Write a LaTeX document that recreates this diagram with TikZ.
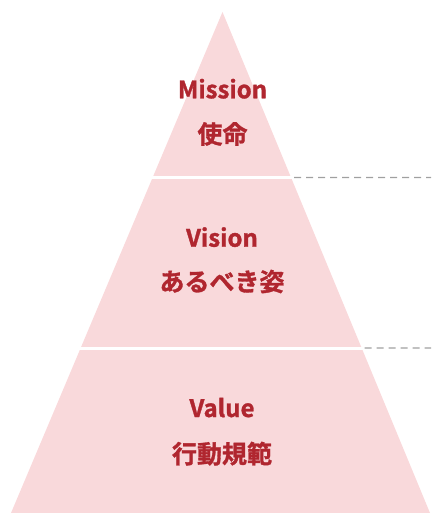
\documentclass[tikz,border=0pt]{standalone}
\usepackage{fontspec}
\setmainfont{Noto Sans CJK JP Bold}[FakeBold=1.2]
\usetikzlibrary{calc}
\definecolor{pk}{HTML}{F9D9DB}
\definecolor{rd}{HTML}{B0262F}
\definecolor{gy}{HTML}{A0A0A0}
\begin{document}
\begin{tikzpicture}[x=1pt,y=-1pt,
    lbl/.style={text=rd,font=\fontsize{24}{28}\selectfont,inner sep=0pt},
    jlbl/.style={lbl,font=\fontsize{25}{30}\selectfont},
    cut/.style={white,line width=3pt},
    guide/.style={gy,line width=1.2pt,dash pattern=on 7pt off 5pt}]
    \useasboundingbox (0,0) rectangle (431,513);
    \coordinate (top) at (222.5,12);
    \coordinate (bl) at (11,513);
    \coordinate (br) at (430,513);
    \fill[pk] (top) -- (br) -- (bl) -- cycle;
    % cuts between the levels
    \coordinate (c1l) at ($(top)!165.5/501!(bl)+(-3,0)$);
    \coordinate (c1r) at ($(top)!165.5/501!(br)+(3,0)$);
    \coordinate (c2l) at ($(top)!336/501!(bl)+(-3,0)$);
    \coordinate (c2r) at ($(top)!336/501!(br)+(3,0)$);
    \draw[cut] (c1l) -- (c1r);
    \draw[cut] (c2l) -- (c2r);
    \coordinate (e1) at (431,177.5);
    \coordinate (e2) at (431,348);
    \draw[guide] (c1r) -- (e1);
    \draw[guide] (c2r) -- (e2);
    % labels
    \node[lbl,anchor=base] (mission) at (222.5,98.3) {Mission};
    \node[jlbl] (shimei) at (222.5,134) {使命};
    \node[lbl,anchor=base] (vision) at (222,246.7) {Vision};
    \node[jlbl] (arubeki) at (222,281.5) {あるべき姿};
    \node[lbl,anchor=base] (value) at (222,417) {Value};
    \node[jlbl] (kihan) at (222,453.7) {行動規範};
\end{tikzpicture}
\end{document}
